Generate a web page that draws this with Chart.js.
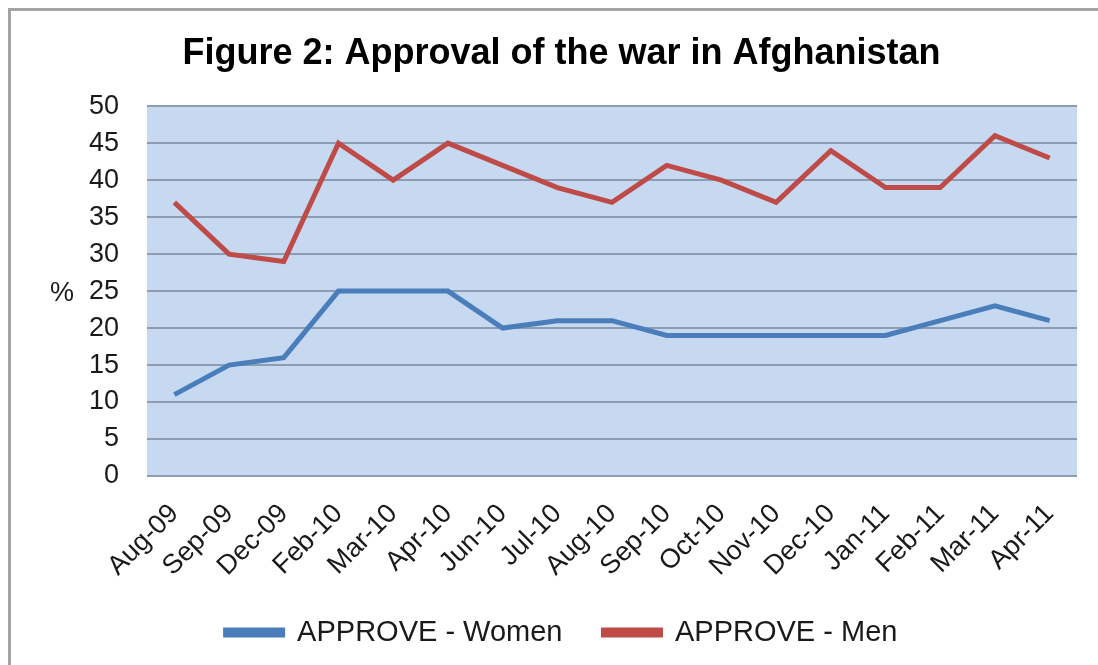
<!DOCTYPE html>
<html>
<head>
<meta charset="utf-8">
<script src="https://cdn.jsdelivr.net/npm/chart.js@4/dist/chart.umd.min.js"></script>
<style>
  html, body { margin: 0; padding: 0; background: #fff; overflow: hidden; }
  #wrap { position: relative; width: 1098px; height: 665px; }
  #frame { position: absolute; left: 8px; top: 8px; width: 2000px; height: 2000px;
           border-left: 3px solid #a3a3a3; border-top: 3px solid #a3a3a3; pointer-events: none; }
</style>
</head>
<body>
<div id="wrap">
  <canvas id="chart"></canvas>
  <div id="frame"></div>
</div>
<script>
// datos
const months = ['Aug-09','Sep-09','Dec-09','Feb-10','Mar-10','Apr-10','Jun-10','Jul-10','Aug-10',
                'Sep-10','Oct-10','Nov-10','Dec-10','Jan-11','Feb-11','Mar-11','Apr-11'];
const approveWomen = [11,15,16,25,25,25,20,21,21,19,19,19,19,19,21,23,21];
const approveMen   = [37,30,29,45,40,45,42,39,37,42,40,37,44,39,39,46,43];
const yMin = 0, yMax = 50, yStep = 5;

const FONT = '"Liberation Sans", Arial, sans-serif';

// fondo azul del área de trazado + etiqueta "%"
const plotBg = {
  id: 'plotBg',
  beforeDraw(chart){
    const {ctx, chartArea: a} = chart;
    ctx.save();
    ctx.fillStyle = '#c6d9f1';
    ctx.fillRect(a.left, a.top, a.right - a.left, a.bottom - a.top);
    ctx.restore();
  },
  afterDraw(chart){
    const {ctx} = chart;
    const y = chart.scales.y.getPixelForValue(25);
    ctx.save();
    ctx.fillStyle = '#1a1a1a';
    ctx.font = '27px ' + FONT;
    ctx.textAlign = 'center';
    ctx.textBaseline = 'middle';
    ctx.fillText('%', 62, y + 2);
    ctx.restore();
  }
};

new Chart(document.getElementById('chart'), {
  type: 'line',
  data: {
    labels: months,
    datasets: [
      { label: 'APPROVE - Women', data: approveWomen, borderColor: '#4a7ebb', backgroundColor: '#4a7ebb',
        borderWidth: 5, pointRadius: 0, tension: 0, fill: false },
      { label: 'APPROVE - Men', data: approveMen, borderColor: '#be4b48', backgroundColor: '#be4b48',
        borderWidth: 5, pointRadius: 0, tension: 0, fill: false }
    ]
  },
  options: {
    responsive: true,
    maintainAspectRatio: false,
    animation: false,
    layout: { padding: { top: 4, left: 46, right: 21, bottom: 8 } },
    plugins: {
      title: {
        display: true,
        text: 'Figure 2: Approval of the war in Afghanistan',
        color: '#000',
        font: { family: FONT, size: 36, weight: 'bold' },
        padding: { top: 28, bottom: 31 }
      },
      legend: {
        position: 'bottom',
        labels: {
          color: '#1a1a1a',
          font: { family: FONT, size: 29 },
          boxWidth: 57,
          boxHeight: 5,
          padding: 41
        }
      },
      tooltip: { enabled: false }
    },
    scales: {
      x: {
        offset: true,
        grid: { display: false },
        border: { display: false },
        ticks: {
          color: '#1a1a1a',
          font: { family: FONT, size: 27 },
          minRotation: 45, maxRotation: 45,
          padding: 14,
          autoSkip: false
        },
        afterFit(scale){ scale.height = 101; }
      },
      y: {
        min: yMin, max: yMax,
        grid: { color: '#8d9db1', lineWidth: 2, drawTicks: false },
        border: { display: false },
        ticks: {
          stepSize: yStep,
          color: '#1a1a1a',
          font: { family: FONT, size: 27 },
          padding: 28
        },
        afterFit(scale){ scale.width = 101; }
      }
    }
  },
  plugins: [plotBg]
});
</script>
</body>
</html>
